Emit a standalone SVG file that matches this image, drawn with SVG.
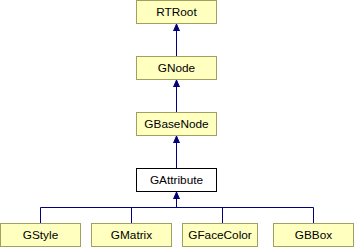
<svg xmlns="http://www.w3.org/2000/svg" width="354" height="248" viewBox="0 0 354 248">
  <style>
    .node rect { fill: #ffffc0; stroke: #a0a060; stroke-width: 1; }
    .node.current rect { fill: #ffffff; stroke: #000000; }
    .node text { font-family: "Liberation Sans", Arial, sans-serif; font-size: 11.8px; fill: #000000; text-anchor: middle; }
    .edge { fill: none; stroke: #000080; stroke-width: 1; }
  </style>
  <defs>
    <marker id="arrow" markerWidth="8" markerHeight="8" refX="7" refY="4" orient="auto" markerUnits="userSpaceOnUse">
      <path d="M0,1 L7,4 L0,7 Z" fill="#000080" stroke="#000080"/>
    </marker>
  </defs>
  <rect width="354" height="248" fill="#ffffff"/>

  <g id="connectors">
    <path class="edge" d="M176.5,56 V24" marker-end="url(#arrow)"/>
    <path class="edge" d="M176.5,112 V80" marker-end="url(#arrow)"/>
    <path class="edge" d="M176.5,168 V136" marker-end="url(#arrow)"/>
    <path class="edge" d="M176.5,207.5 V192" marker-end="url(#arrow)"/>
    <path class="edge" d="M40.5,223 V207.5 H313.5 V223"/>
    <path class="edge" d="M131.5,223 V207.5"/>
    <path class="edge" d="M222.5,223 V207.5"/>
  </g>

  <g id="RTRoot" class="node">
    <rect x="136.5" y="0.5" width="80" height="23"/>
    <text x="176.5" y="16">RTRoot</text>
  </g>
  <g id="GNode" class="node">
    <rect x="136.5" y="56.5" width="80" height="23"/>
    <text x="176.5" y="72">GNode</text>
  </g>
  <g id="GBaseNode" class="node">
    <rect x="136.5" y="112.5" width="80" height="23"/>
    <text x="176.5" y="128">GBaseNode</text>
  </g>
  <g id="GAttribute" class="node current">
    <rect x="136.5" y="168.5" width="80" height="23"/>
    <text x="176.5" y="184">GAttribute</text>
  </g>
  <g id="GStyle" class="node">
    <rect x="0.5" y="223.5" width="80" height="23"/>
    <text x="40.5" y="239">GStyle</text>
  </g>
  <g id="GMatrix" class="node">
    <rect x="91.5" y="223.5" width="80" height="23"/>
    <text x="131.5" y="239">GMatrix</text>
  </g>
  <g id="GFaceColor" class="node">
    <rect x="182.5" y="223.5" width="75" height="23"/>
    <text x="220" y="239">GFaceColor</text>
  </g>
  <g id="GBBox" class="node">
    <rect x="273.5" y="223.5" width="80" height="23"/>
    <text x="313.5" y="239">GBBox</text>
  </g>
</svg>
